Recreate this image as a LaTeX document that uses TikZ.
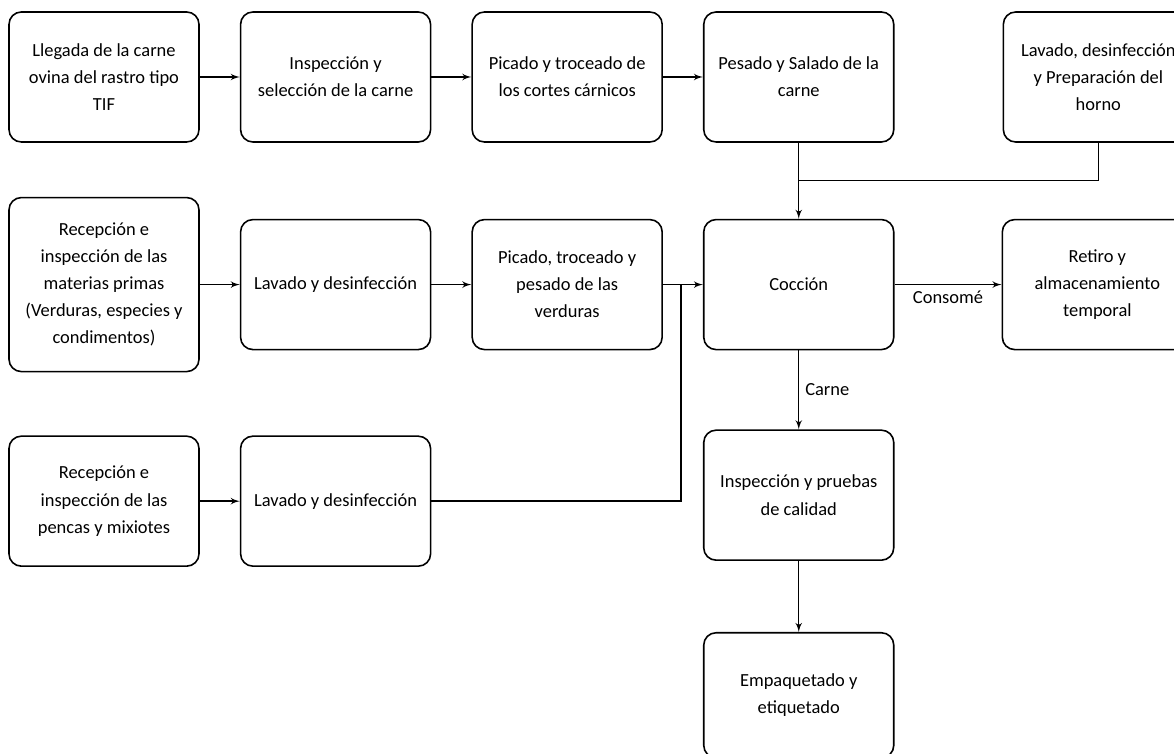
\documentclass[tikz,border=0pt]{standalone}
\usepackage{fontspec}
\setmainfont{Carlito}
\usepackage{tikz}
\usepackage{xcolor}
\usetikzlibrary{shapes,arrows,positioning}
\tikzstyle{line} = [draw, line width=0.8pt, -latex']

\begin{document}
\begin{tikzpicture}[node distance=0.8cm, auto, font=\fontsize{10.5}{15.4}\selectfont, class/.style={rectangle, draw, line width=0.9pt, fill=white, rounded corners=7pt, text centered, align=center, minimum width=3.8cm, minimum height=2.6cm}]
        \useasboundingbox (-2.08,1.54) rectangle (21.4,-13.54);
        % fila de la carne
        \node[class] (LlegadaCarne) {Llegada de la carne\\ovina del rastro tipo\\TIF};
        \node[class, right=of LlegadaCarne] (InspeccionCarne) {Inspección y\\selección de la carne};
        \node[class, right=of InspeccionCarne] (PicadoCarne) {Picado y troceado de\\los cortes cárnicos};
        \node[class, right=of PicadoCarne] (PesadoSalado) {Pesado y Salado de la\\carne};
        \node[class, right=2.16cm of PesadoSalado] (PreparacionHorno) {Lavado, desinfección\\y Preparación del\\horno};
        % fila de las verduras
        \node[class, below=1.52cm of PesadoSalado] (Coccion) {Cocción};
        \node[class, left=of Coccion] (PicadoVerduras) {Picado, troceado y\\pesado de las\\verduras};
        \node[class, left=of PicadoVerduras] (LavadoVerduras) {Lavado y desinfección};
        \node[class, left=of LavadoVerduras, minimum height=3.48cm] (RecepcionMaterias) {Recepción e\\inspección de las\\materias primas\\(Verduras, especies y\\condimentos)};
        \node[class, right=2.14cm of Coccion] (RetiroAlmacen) {Retiro y\\almacenamiento\\temporal};
        % fila de las pencas
        \node[class, below=1.7cm of LavadoVerduras] (LavadoPencas) {Lavado y desinfección};
        \node[class, left=of LavadoPencas] (RecepcionPencas) {Recepción e\\inspección de las\\pencas y mixiotes};
        % producto final
        \node[class, below=1.58cm of Coccion] (InspeccionCalidad) {Inspección y pruebas\\de calidad};
        \node[class, below=1.42cm of InspeccionCalidad, minimum height=2.5cm] (Empaquetado) {Empaquetado y\\etiquetado};

        \coordinate[below=0.76cm of PesadoSalado.south] (UnionHorno);
        \coordinate[right=0.36cm of PicadoVerduras.east] (UnionPencas);

        \path [line] (LlegadaCarne) -- (InspeccionCarne);
        \path [line] (InspeccionCarne) -- (PicadoCarne);
        \path [line] (PicadoCarne) -- (PesadoSalado);
        \path [line] (PesadoSalado) -- (Coccion);
        \draw [line width=0.8pt] (PreparacionHorno.south) |- (UnionHorno);
        \path [line] (RecepcionMaterias) -- (LavadoVerduras);
        \path [line] (LavadoVerduras) -- (PicadoVerduras);
        \path [line] (PicadoVerduras) -- (Coccion);
        \path [line] (RecepcionPencas) -- (LavadoPencas);
        \draw [line width=0.8pt] (LavadoPencas.east) -| (UnionPencas);
        \path [line] (Coccion) -- node[midway, below] {Consomé} (RetiroAlmacen);
        \path [line] (Coccion) -- node[midway, right] {Carne} (InspeccionCalidad);
        \path [line] (InspeccionCalidad) -- (Empaquetado);
    \end{tikzpicture}
\end{document}
